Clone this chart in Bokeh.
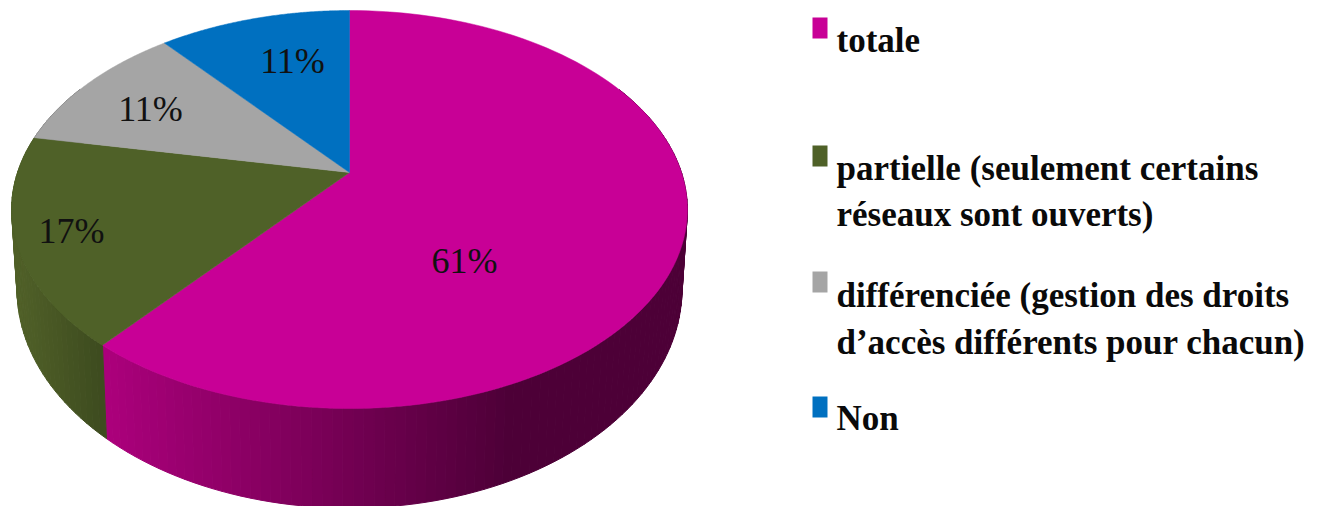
import numpy as np
from bokeh.core.properties import value
from bokeh.embed import file_html
from bokeh.plotting import figure
from bokeh.resources import INLINE

# Survey shares, clockwise from twelve o'clock
categories = ["totale", "partielle", "différenciée", "Non"]
shares = [61, 17, 11, 11]
share_labels = ["61%", "17%", "11%", "11%"]
top_colors = ["#C80096", "#4F6128", "#A5A5A5", "#0070C0"]
side_light = [(172, 0, 124), (80, 96, 40), (120, 120, 120), (0, 80, 140)]
side_dark = [(77, 0, 55), (60, 74, 30), (90, 90, 90), (0, 60, 105)]
legend_lines = [
    ["totale"],
    ["partielle (seulement certains", "réseaux sont ouverts)"],
    ["différenciée (gestion des droits", "d’accès différents pour chacun)"],
    ["Non"],
]

W, H = 1324, 506
CX, CY = 349.0, 172.0      # apex of the tilted disc on the page
AX, AY, K = 332.0, 192.1, 0.186  # perspective of the disc
BOTTOM_DX, BOTTOM_DY, BOTTOM_SY = 0.984, 76.0, 1.10  # lower rim relative to the top


def rim(deg, lower=False):
    """Page position of a rim point, deg measured clockwise from the top."""
    t = np.radians(deg)
    u, v = np.sin(t), np.cos(t)
    d = 1 + K * v
    x, y = AX * u / d, -AY * v / d
    if lower:
        return CX + BOTTOM_DX * x, CY + BOTTOM_DY + BOTTOM_SY * y
    return CX + x, CY + y


p = figure(width=W, height=H, x_range=(0, W), y_range=(H, 0), toolbar_location=None,
           output_backend="svg", min_border=0, outline_line_color=None,
           background_fill_color="white", border_fill_color="white")
p.axis.visible = False
p.grid.visible = False

edges = np.concatenate([[0], np.cumsum(shares)]) * 360.0 / sum(shares)

# Outer wall, shaded across the page from left to right
STEP = 1.5
for i in range(len(shares)):
    a0, a1 = max(edges[i], 62), min(edges[i + 1], 298)
    if a1 <= a0:
        continue
    n = max(1, int(np.ceil((a1 - a0) / STEP)))
    cuts = np.linspace(a0, a1, n + 1)
    xs, ys, cols = [], [], []
    for s, e in zip(cuts[:-1], cuts[1:]):
        xt0, yt0 = rim(s)
        xt1, yt1 = rim(e)
        xb0, yb0 = rim(s, True)
        xb1, yb1 = rim(e, True)
        xs.append([xt0, xt1, xb1, xb0])
        ys.append([yt0, yt1, yb1, yb0])
        xm = (xt0 + xt1) / 2
        if i == 0:
            f = np.clip((xm - 102) / (510 - 102), 0, 1)
            c0, c1 = side_light[i], side_dark[i]
        else:
            f = np.clip((xm - 15) / (106 - 15), 0, 1)
            c0, c1 = side_light[i], side_dark[i]
        cols.append("#%02x%02x%02x" % tuple(int(round(a + (b - a) * f)) for a, b in zip(c0, c1)))
    p.patches(xs, ys, fill_color=cols, line_color=cols, line_width=1)

# Top face of each slice
for i in range(len(shares)):
    angles = np.linspace(edges[i], edges[i + 1], 120)
    x, y = rim(angles)
    p.patch(np.r_[CX, x], np.r_[CY, y], fill_color=top_colors[i], line_color=top_colors[i], line_width=0.5)

# Percentage labels placed inside their slices
label_x = [464, 71, 150, 292]
label_y = [260, 230, 108, 60]
p.text(label_x, label_y, text=share_labels, text_font=value("Liberation Sans Narrow"),
       text_font_size="36px", text_color="#111111", text_align="center", text_baseline="middle")

# Legend with wrapped entries
swatch_top = [17, 145, 271, 396]
baselines = [[40], [168, 214], [295, 342], [418]]
for color, top, lines, ys in zip(top_colors, swatch_top, legend_lines, baselines):
    p.quad(left=812, right=827, top=top, bottom=top + 21, fill_color=color, line_color=None)
    p.text([836] * len(lines), ys, text=lines, text_font=value("Liberation Sans Narrow"),
           text_font_style="bold", text_font_size="35px", text_color="#0a0a0a",
           text_align="left", text_baseline="alphabetic")

open("out.html", "w").write(file_html(p, INLINE))
